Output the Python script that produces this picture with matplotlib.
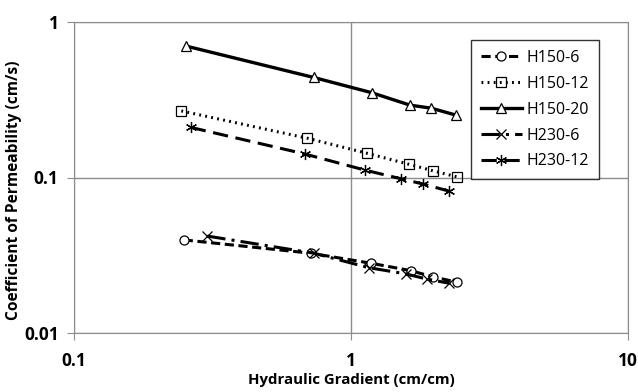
import matplotlib
matplotlib.use("Agg")
import matplotlib.pyplot as plt

plt.rcParams['font.family'] = ['Open Sans', 'DejaVu Sans']

h150_6_x = [0.249, 0.715, 1.18, 1.64, 1.97, 2.42]
h150_6_y = [0.0397, 0.0326, 0.0281, 0.0252, 0.0230, 0.0212]
h150_12_x = [0.244, 0.695, 1.145, 1.62, 1.97, 2.41]
h150_12_y = [0.268, 0.179, 0.143, 0.1216, 0.1106, 0.101]
h150_20_x = [0.254, 0.733, 1.188, 1.633, 1.95, 2.39]
h150_20_y = [0.70, 0.44, 0.351, 0.292, 0.279, 0.252]
h230_6_x = [0.303, 0.735, 1.16, 1.576, 1.886, 2.26]
h230_6_y = [0.042, 0.0326, 0.0263, 0.024, 0.0222, 0.0209]
h230_12_x = [0.264, 0.682, 1.12, 1.51, 1.82, 2.25]
h230_12_y = [0.21, 0.1416, 0.1117, 0.0983, 0.0908, 0.0819]

x_ticks = [0.1, 1, 10]
x_tick_labels = ['0.1', '1', '10']
y_ticks = [0.01, 0.1, 1]
y_tick_labels = ['0.01', '0.1', '1']

fig = plt.figure(figsize=(6.38, 3.92), dpi=100)
ax = fig.add_axes([74/638, 1-333/392, (628-74)/638, (333-22)/392])

ax.plot(h150_6_x, h150_6_y, color='black', lw=2.2, ls=(0, (3, 1.5)), marker='o',
        mfc='white', mec='black', mew=0.9, ms=6.5, label='H150-6')
ax.plot(h150_12_x, h150_12_y, color='black', lw=2.2, ls=(0, (0.6, 1.4)), marker='s',
        mfc='none', mec='black', mew=0.9, ms=6.5, label='H150-12')
ax.plot(h150_20_x, h150_20_y, color='black', lw=2.4, ls='-', marker='^',
        mfc='white', mec='black', mew=0.9, ms=7, label='H150-20')
ax.plot(h230_6_x, h230_6_y, color='black', lw=2.2, ls=(0, (6, 2, 1, 2)), marker='x',
        mec='black', mew=0.9, ms=7, label='H230-6')
ax.plot(h230_12_x, h230_12_y, color='black', lw=2.2, ls=(0, (5, 2.5)), marker=(6, 2, 0),
        mec='black', mew=0.9, ms=8, label='H230-12')

ax.set_xscale('log')
ax.set_yscale('log')
ax.set_xlim(0.1, 10)
ax.set_ylim(0.01, 1)
ax.set_xticks(x_ticks)
ax.set_xticklabels(x_tick_labels)
ax.set_yticks(y_ticks)
ax.set_yticklabels(y_tick_labels)
ax.minorticks_off()
ax.grid(True, which='major', color='#8c8c8c', lw=1.0)
for s in ax.spines.values():
    s.set_color('#8c8c8c')
ax.tick_params(axis='both', which='major', colors='#8c8c8c', length=5, labelsize=12.5,
               labelcolor='black', pad=6)
ax.tick_params(axis='x', pad=9)
for lab in ax.get_xticklabels() + ax.get_yticklabels():
    lab.set_fontweight('bold')

ax.set_xlabel('Hydraulic Gradient (cm/cm)', fontsize=10.8, fontweight='bold')
ax.set_ylabel('Coefficient of Permeability (cm/s)', fontsize=11.2, fontweight='bold')
ax.xaxis.set_label_coords(0.5, -0.128)
ax.yaxis.set_label_coords(-0.093, 0.46)

leg = ax.legend(loc='upper right', bbox_to_anchor=(0.962, 0.967), fontsize=11.5,
                frameon=True, fancybox=False, edgecolor='black', handlelength=2.6,
                labelspacing=0.62, borderpad=0.6, handletextpad=0.3)
leg.get_frame().set_linewidth(1.0)

fig.savefig('out.png', dpi=100, facecolor='white')
